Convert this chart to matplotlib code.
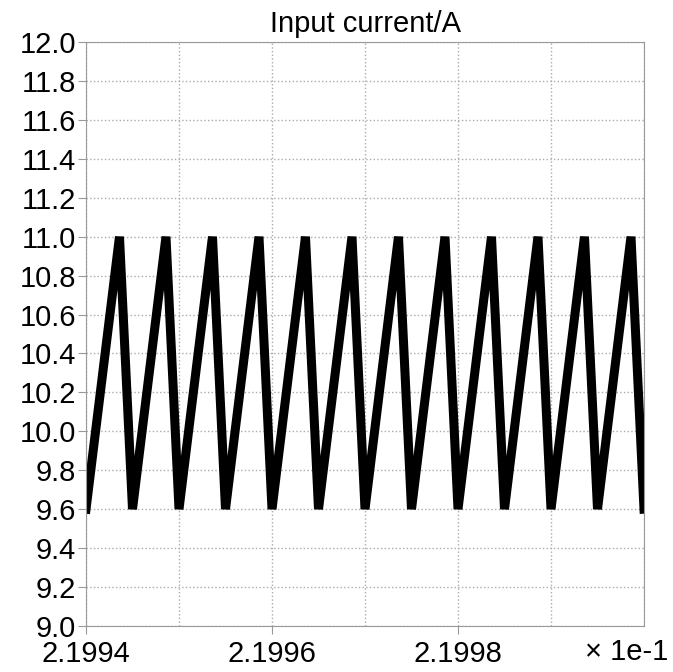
import matplotlib.pyplot as plt
from matplotlib.ticker import MultipleLocator, FixedLocator

# time (s) and input current (A) at the corners of the ripple waveform
temps = [0.2199400, 0.2199436, 0.2199450, 0.2199486, 0.2199500, 0.2199536,
         0.2199550, 0.2199586, 0.2199600, 0.2199636, 0.2199650, 0.2199686,
         0.2199700, 0.2199736, 0.2199750, 0.2199786, 0.2199800, 0.2199836,
         0.2199850, 0.2199886, 0.2199900, 0.2199936, 0.2199950, 0.2199986,
         0.2200000]
courant = [9.6, 11.0, 9.6, 11.0, 9.6, 11.0,
           9.6, 11.0, 9.6, 11.0, 9.6, 11.0,
           9.6, 11.0, 9.6, 11.0, 9.6, 11.0,
           9.6, 11.0, 9.6, 11.0, 9.6, 11.0,
           9.6]

x_ticks = [0.21994, 0.21996, 0.21998]
x_labels = ['2.1994', '2.1996', '2.1998']

plt.rcParams['font.family'] = ['Liberation Sans', 'DejaVu Sans']

fig = plt.figure(figsize=(6.73, 6.72), dpi=100)
ax = fig.add_axes([86 / 673, 1 - 626 / 672, 558 / 673, 584 / 672])

ax.plot(temps, courant, color='black', linewidth=6.5, solid_joinstyle='bevel')

ax.set_xlim(0.21994, 0.22000)
ax.set_ylim(9.0, 12.0)

ax.xaxis.set_major_locator(FixedLocator(x_ticks))
ax.set_xticklabels(x_labels)
ax.xaxis.set_minor_locator(MultipleLocator(1e-5))
ax.yaxis.set_major_locator(MultipleLocator(0.2))
ax.yaxis.set_major_formatter(plt.FormatStrFormatter('%.1f'))

ax.grid(True, which='both', linestyle=':', color='#aaaaaa', linewidth=1.0)
ax.tick_params(axis='both', which='major', labelsize=21, color='#999999', length=6, pad=1)
ax.tick_params(axis='x', which='major', pad=4)
ax.tick_params(axis='x', which='minor', length=0)
for s in ax.spines.values():
    s.set_color('#999999')

ax.set_title('Input current/A', fontsize=21, pad=7)
fig.text(668 / 673, 1 - 652 / 672, '× 1e-1', fontsize=21, ha='right', va='center')

plt.savefig('out.png', dpi=100)
